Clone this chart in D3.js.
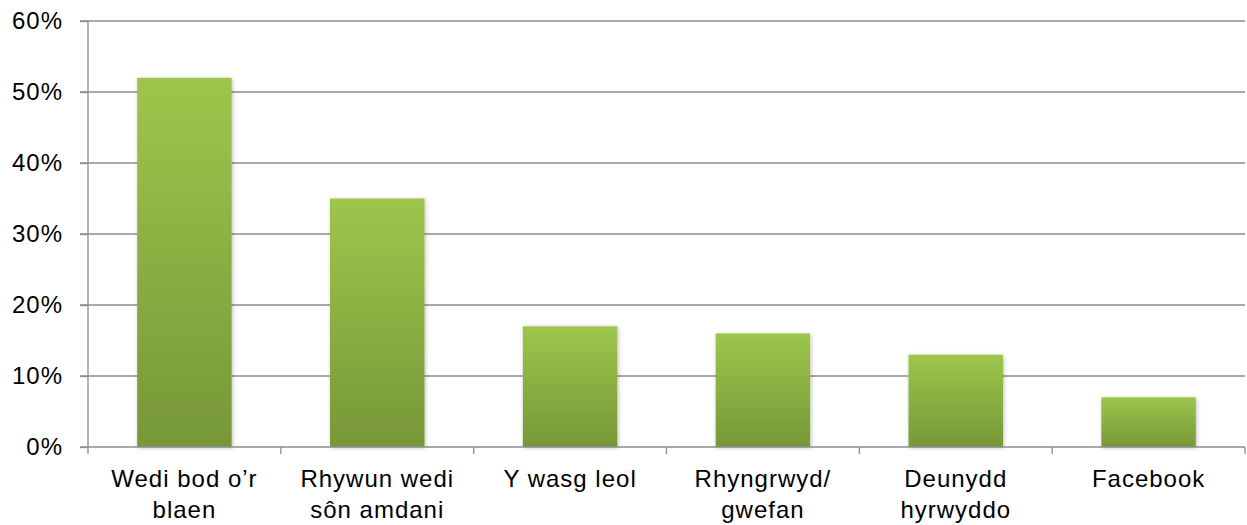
<!DOCTYPE html>
<html><head><meta charset="utf-8">
<script src="https://cdn.jsdelivr.net/npm/d3@7"></script>
<style>body{margin:0;background:#fff}svg{display:block}text{font-family:"Liberation Sans",Arial,sans-serif;fill:#000}</style>
</head><body><svg id="c" width="1247" height="525"></svg>
<script>
const categories = [["Wedi bod o\u2019r","blaen"],["Rhywun wedi","s\u00f4n amdani"],["Y wasg leol"],["Rhyngrwyd/","gwefan"],["Deunydd","hyrwyddo"],["Facebook"]];
const values = [0.52,0.35,0.17,0.16,0.13,0.07];
const yTicks = [0,0.1,0.2,0.3,0.4,0.5,0.6];

const svg = d3.select("#c");
const L=88,R=1245,T=21,B=447;
const x = d3.scaleBand().domain(d3.range(categories.length)).range([L,R]).paddingInner(0.51).paddingOuter(0.255);
const y = d3.scaleLinear().domain([0,0.6]).range([B,T]);

const defs = svg.append("defs");
const g = defs.append("linearGradient").attr("id","gr").attr("x1",0).attr("y1",0).attr("x2",0).attr("y2",1);
g.append("stop").attr("offset","0%").attr("stop-color","#9dc64b");
g.append("stop").attr("offset","100%").attr("stop-color","#779738");
const f = defs.append("filter").attr("id","sh").attr("x","-10%").attr("y","-10%").attr("width","130%").attr("height","130%");
f.append("feDropShadow").attr("dx",1).attr("dy",1).attr("stdDeviation",2).attr("flood-color","#000").attr("flood-opacity",0.25);

// gridlines
svg.append("g").selectAll("line").data(yTicks.slice(1)).join("line")
  .attr("x1",L-8).attr("x2",R).attr("y1",d=>y(d)).attr("y2",d=>y(d))
  .attr("stroke","#8c8c8c").attr("stroke-width",1.3);

// y axis
const ya = svg.append("g").attr("transform",`translate(${L},0)`)
  .call(d3.axisLeft(y).tickValues(yTicks).tickFormat(d3.format(".0%")).tickSize(8).tickPadding(17));
ya.select(".domain").attr("stroke","#8c8c8c").attr("stroke-width",1.3).attr("d",`M0,${T}V${B}`);
ya.selectAll(".tick line").attr("stroke","#8c8c8c").attr("stroke-width",1.3);
ya.selectAll(".tick text").attr("font-size","24px").attr("letter-spacing","1px").attr("font-family","Liberation Sans, Arial, sans-serif").attr("fill","#000");

// bars
svg.append("g").selectAll("rect").data(values).join("rect")
  .attr("x",(d,i)=>x(i)).attr("width",x.bandwidth())
  .attr("y",d=>y(d)).attr("height",d=>B-y(d))
  .attr("fill","url(#gr)").attr("filter","url(#sh)");

// x axis
const step = x.step();
const bounds = d3.range(categories.length+1).map(i=>L+i*step);
svg.append("line").attr("x1",L-8).attr("x2",R).attr("y1",B).attr("y2",B).attr("stroke","#8c8c8c").attr("stroke-width",1.3);
svg.append("g").selectAll("line").data(bounds).join("line")
  .attr("x1",d=>d).attr("x2",d=>d).attr("y1",B).attr("y2",B+7)
  .attr("stroke","#8c8c8c").attr("stroke-width",1.3);

// x labels
const lab = svg.append("g").selectAll("text").data(categories).join("text")
  .attr("text-anchor","middle").attr("font-size","24px").attr("letter-spacing","1px")
  .attr("x",(d,i)=>x(i)+x.bandwidth()/2).attr("y",487);
lab.selectAll("tspan").data(d=>d).join("tspan")
  .attr("x",function(){return this.parentNode.getAttribute("x");})
  .attr("dy",(d,i)=>i===0?0:31).text(d=>d);
</script></body></html>
